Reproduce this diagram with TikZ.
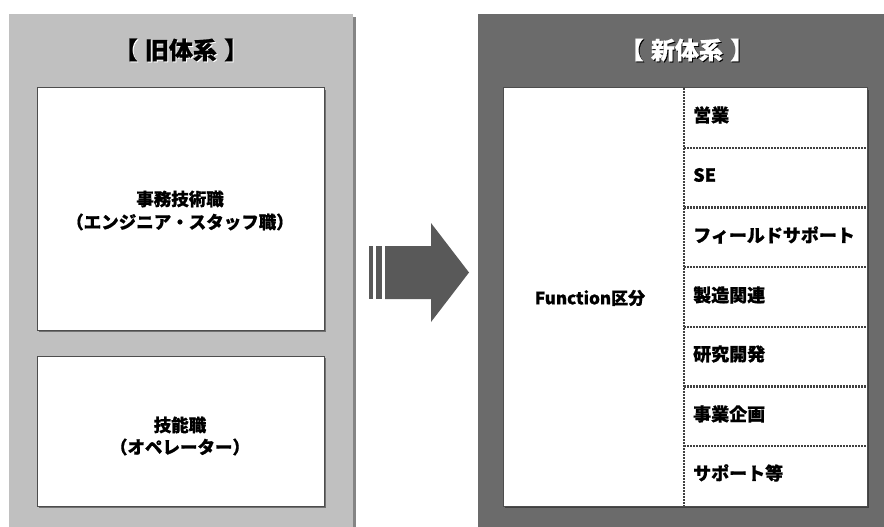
\documentclass[tikz,border=0pt]{standalone}
\usepackage{fontspec}
\setmainfont{Noto Sans CJK JP}[BoldFeatures={FakeBold=0.7}]
\definecolor{panelL}{HTML}{C0C0C0}
\definecolor{panelLs}{HTML}{858585}
\definecolor{panelR}{HTML}{6B6B6B}
\definecolor{arrowc}{HTML}{595959}
\definecolor{edgec}{HTML}{4D4D4D}
\tikzset{
  whitebox/.style={draw=edgec, line width=1pt, fill=white},
  boxshadow/.style={fill=edgec!80},
  txt/.style={inner sep=0pt, font=\bfseries\fontsize{17.5}{20}\selectfont, text=black},
  lbl/.style={inner sep=0pt, anchor=west, font=\bfseries\fontsize{18}{21}\selectfont, text=black},
  ttl/.style={inner sep=0pt, font=\bfseries\fontsize{24}{28}\selectfont},
  dotline/.style={draw=black!75, line width=2.2pt, dash pattern=on 2pt off 1pt},
}
\newcommand{\tgap}{\hspace{0.3em}}
\begin{document}
\begin{tikzpicture}[x=1pt,y=-1pt]
\useasboundingbox (0,0) rectangle (884,527);
\fill[white] (0,0) rectangle (884,527);
% left panel
\fill[panelLs] (12,17) rectangle (356,527);
\fill[panelL] (9,14) rectangle (352.5,527);
% right panel
\fill[panelR] (478,14) rectangle (884,527);
% titles
\node[ttl, text=white] at (182,51) {【\tgap 旧体系\tgap 】};
\node[ttl, text=black] (tL) at (181,50) {【\tgap 旧体系\tgap 】};
\node[ttl, text=black] at (688,51) {【\tgap 新体系\tgap 】};
\node[ttl, text=white] (tR) at (687,50) {【\tgap 新体系\tgap 】};
% left boxes
\fill[boxshadow] (39,90) rectangle (326,332);
\node[whitebox, minimum width=287pt, minimum height=242pt, inner sep=0pt] (boxA) at (180.5,209) {};
\fill[boxshadow] (39,358) rectangle (326,508);
\node[whitebox, minimum width=287pt, minimum height=150pt, inner sep=0pt] (boxB) at (180.5,431) {};
\node[txt] (a1) at (180,199) {事務技術職};
\node[txt] (a2) at (180,222) {（エンジニア・スタッフ職）};
\node[txt] (b1) at (180,425) {技能職};
\node[txt] (b2) at (180,447) {（オペレーター）};
% arrow
\fill[arrowc] (369,246) rectangle (373,299);
\fill[arrowc] (376,246) rectangle (382,299);
\fill[arrowc] (385,246) -- (431,246) -- (431,223) -- (469,272.5) -- (431,322) -- (431,299) -- (385,299) -- cycle;
% right box
\fill[black!75] (505,90) rectangle (869,508);
\node[whitebox, minimum width=364pt, minimum height=418pt, inner sep=0pt] (boxR) at (685,297) {};
\node[inner sep=0pt, font=\bfseries\fontsize{17}{20}\selectfont] (fn) at (590,298) {Function区分};
\coordinate (vt) at (684,88);
\coordinate (vb) at (684,506);
\draw[dotline] (vt) -- (vb);
\foreach \yy in {148,207.5,267,327,386.5,446}{
  \draw[dotline] (684,\yy) -- (866.5,\yy);
}
\node[lbl] (r1) at (693,115) {営業};
\node[lbl] (r2) at (693,175) {SE};
\node[lbl] (r3) at (693,235) {フィールドサポート};
\node[lbl] (r4) at (693,295) {製造関連};
\node[lbl] (r5) at (693,354) {研究開発};
\node[lbl] (r6) at (693,414) {事業企画};
\node[lbl] (r7) at (693,473) {サポート等};
\end{tikzpicture}
\end{document}
